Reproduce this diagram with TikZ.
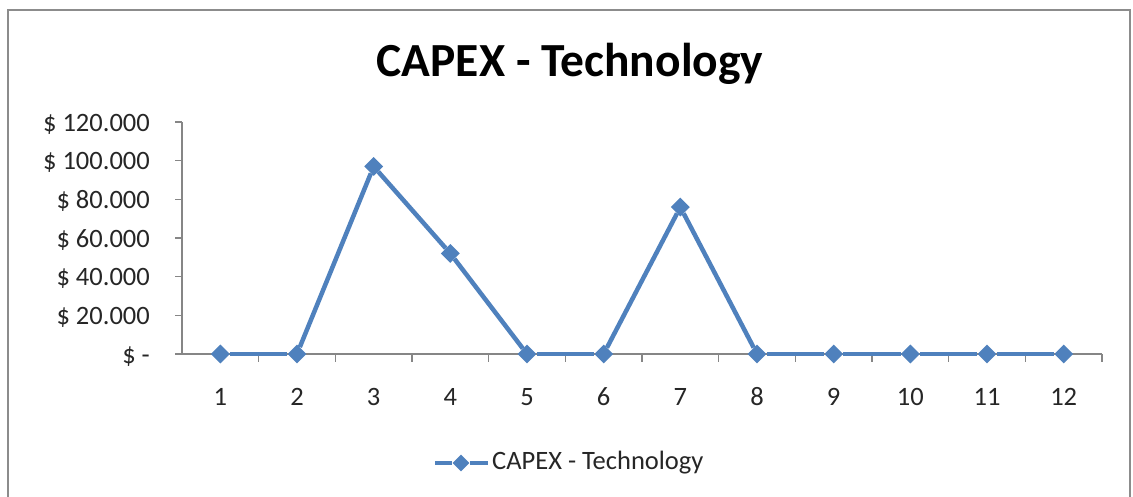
\documentclass[tikz,border=0pt]{standalone}
\usepackage{fontspec}
\setmainfont{Carlito}
\usetikzlibrary{shapes.geometric, positioning}

\definecolor{seriesblue}{HTML}{4F81BD}
\definecolor{axisgray}{HTML}{868686}
\definecolor{framegray}{HTML}{8C8C8C}
\definecolor{labeltext}{HTML}{262626}

\tikzset{
  datapt/.style={diamond, fill=seriesblue, inner sep=0pt, minimum size=19pt},
  series/.style={draw=seriesblue, line width=4.5pt},
  axisline/.style={draw=axisgray, line width=1.4pt},
  ticklabel/.style={font=\fontsize{26.5}{30}\selectfont, text=labeltext, inner sep=0pt},
}

\begin{document}
\begin{tikzpicture}[x=1pt, y=-1pt]
  \useasboundingbox (0,0) rectangle (1133,497);
  \fill[white] (0,0) rectangle (1133,497);
  % chart frame (bottom edge is cut off)
  \draw[framegray, line width=2.5pt] (8,500) -- (8,10) -- (1130,10) -- (1130,500);

  \node[anchor=base, font=\fontsize{47.5}{52}\selectfont\bfseries, inner sep=0pt] (title) at (570,77) {CAPEX - Technology};

  \begin{scope}[shift={(182,354)}, x=76.667pt, y=1.9333pt]
    % axes
    \coordinate (origin) at (0,0);
    \coordinate (xend)   at (12,0);
    \coordinate (ytop)   at (0,120);
    \draw[axisline] (ytop) -- (origin) -- (xend);
    \foreach \v/\t in {0/{\$ -}, 20/{\$ 20.000}, 40/{\$ 40.000}, 60/{\$ 60.000},
                       80/{\$ 80.000}, 100/{\$ 100.000}, 120/{\$ 120.000}} {
      \draw[axisline] (0,\v) -- ++(-7pt,0);
      \node[ticklabel, anchor=base east] at ([xshift=-32pt, yshift=-9pt]0,\v) {\t};
    }
    \foreach \i in {1,...,12} {
      \draw[axisline] (\i,0) -- ++(0,-8pt);
      \node[ticklabel, anchor=base] at ([yshift=-51pt]\i-0.5,0) {\i};
    }

    % data points (thousands)
    \node[datapt] (p1)  at (0.5,0)  {};
    \node[datapt] (p2)  at (1.5,0)  {};
    \node[datapt] (p3)  at (2.5,97) {};
    \node[datapt] (p4)  at (3.5,52) {};
    \node[datapt] (p5)  at (4.5,0)  {};
    \node[datapt] (p6)  at (5.5,0)  {};
    \node[datapt] (p7)  at (6.5,76) {};
    \node[datapt] (p8)  at (7.5,0)  {};
    \node[datapt] (p9)  at (8.5,0)  {};
    \node[datapt] (p10) at (9.5,0)  {};
    \node[datapt] (p11) at (10.5,0) {};
    \node[datapt] (p12) at (11.5,0) {};
    \path[series]
      (p1)  edge (p2)
      (p2)  edge (p3)
      (p3)  edge (p4)
      (p4)  edge (p5)
      (p5)  edge (p6)
      (p6)  edge (p7)
      (p7)  edge (p8)
      (p8)  edge (p9)
      (p9)  edge (p10)
      (p10) edge (p11)
      (p11) edge (p12);
  \end{scope}

  % legend
  \node[datapt, minimum size=17pt] (key) at (461,463) {};
  \coordinate (keyl) at (435,463);
  \coordinate (keyr) at (488,463);
  \draw[series] (keyl) -- (key) -- (keyr);
  \node[ticklabel, anchor=west, right=4pt of keyr] (keytext) {CAPEX - Technology};
\end{tikzpicture}
\end{document}
